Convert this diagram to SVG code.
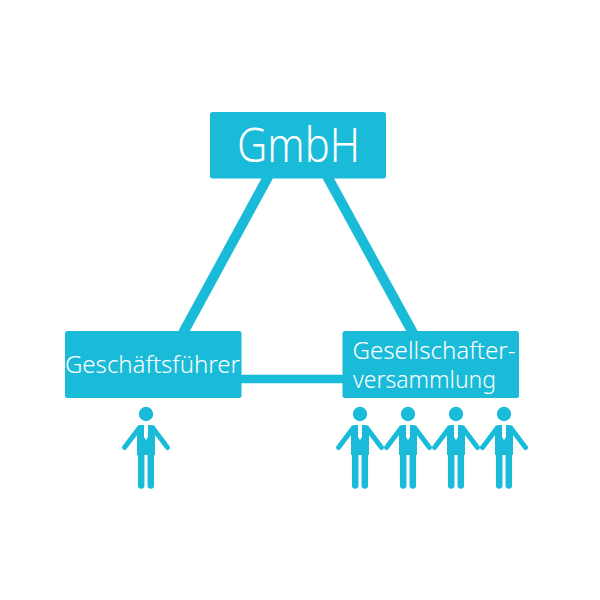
<svg xmlns="http://www.w3.org/2000/svg" width="600" height="600" viewBox="0 0 600 600">
<style>
.box{fill:#19bbd9}
.link{stroke:#19bbd9;stroke-width:10;fill:none}
.t{fill:#fff;font-family:"Noto Sans","Liberation Sans",sans-serif;font-weight:300}
.arm{stroke:#19bbd9;stroke-width:5;stroke-linecap:round;fill:none}
.torso{fill:#19bbd9}
.leg{stroke:#19bbd9;stroke-width:6.500;stroke-linecap:round;fill:none}
</style>
<defs>
<g id="person">
<circle cx="0" cy="14" r="7.200" fill="#19bbd9"/>
<path class="arm" d="M-7.500 29L-21.500 47.500M7.500 29L21.500 47.500"/>
<path class="torso" d="M-9 37L-9 27Q-9 25 -5 25L5 25Q9 25 9 27L9 37L9 55L-9 55Z"/>
<path class="leg" d="M-4.800 53V85.500M4.800 53V85.500"/>
<path d="M-2 24.500H2V37L0 40L-2 37Z" fill="#fff"/>
</g>
</defs>
<g id="connectors">
<path class="link" d="M268.500 176L183 333"/>
<path class="link" d="M327 176L413 333"/>
<path class="link" d="M240 379H344" style="stroke-width:8.500"/>
</g>
<g id="gmbh">
<rect class="box" x="210" y="112" width="176" height="66.500" rx="2.500"/>
<text class="t" x="237" y="161.500" font-size="47" textLength="123" lengthAdjust="spacingAndGlyphs">GmbH</text>
</g>
<g id="geschaeftsfuehrer">
<rect class="box" x="65" y="331" width="176.500" height="67" rx="2.500"/>
<text class="t" x="65" y="373" font-size="24.500" textLength="175" lengthAdjust="spacingAndGlyphs">Geschäftsführer</text>
</g>
<g id="gesellschafterversammlung">
<rect class="box" x="342.500" y="331" width="176.500" height="67" rx="2.500"/>
<text class="t" x="352.500" y="359" font-size="23.500" textLength="163" lengthAdjust="spacingAndGlyphs">Gesellschafter-</text>
<text class="t" x="353" y="388" font-size="23.500" textLength="143" lengthAdjust="spacingAndGlyphs">versammlung</text>
</g>
<g id="person-1"><use href="#person" x="146" y="400"/></g>
<g id="person-2"><use href="#person" x="360" y="400"/></g>
<g id="person-3"><use href="#person" x="408" y="400"/></g>
<g id="person-4"><use href="#person" x="456" y="400"/></g>
<g id="person-5"><use href="#person" x="504" y="400"/></g>
</svg>
